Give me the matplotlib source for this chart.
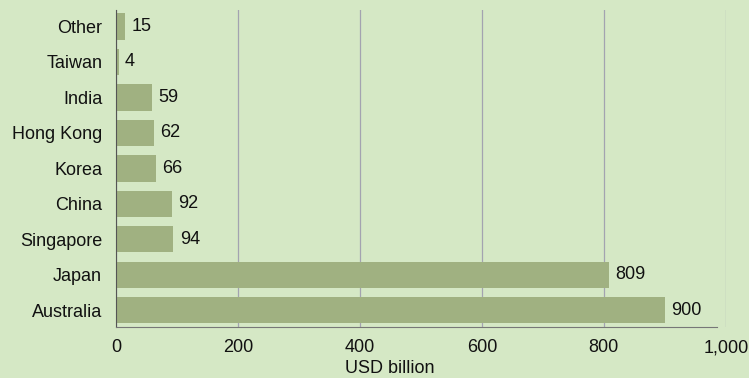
import matplotlib.pyplot as plt
import numpy as np

plt.rcParams["font.family"] = ["Liberation Sans", "DejaVu Sans"]

countries = ["Australia", "Japan", "Singapore", "China", "Korea",
             "Hong Kong", "India", "Taiwan", "Other"]
values = [900, 809, 94, 92, 66, 62, 59, 4, 15]
xticks = [0, 200, 400, 600, 800, 1000]
xticklabels = ["0", "200", "400", "600", "800", "1,000"]

BG = "#d5e8c5"
BAR = "#a0b181"
TXT = "#111111"

fig = plt.figure(figsize=(7.49, 3.78), dpi=100, facecolor=BG)
ax = fig.add_axes([0.155, 0.135, 0.814, 0.839], facecolor=BG)

y = np.arange(len(countries))
ax.barh(y, values, height=0.74, color=BAR, zorder=2)
for yi, v in zip(y, values):
    ax.annotate(str(v), (v, yi), xytext=(4.5, 0), textcoords="offset points",
                va="center", ha="left", fontsize=13, color=TXT)

ax.set_yticks(y)
ax.set_yticklabels(countries, fontsize=13, color=TXT)
ax.set_xticks(xticks)
ax.set_xticklabels(xticklabels, fontsize=13, color=TXT)
ax.set_xlim(0, 1000)
ax.set_ylim(-0.47, 8.47)
ax.tick_params(axis="y", length=0, pad=10)
ax.tick_params(axis="x", length=0, pad=9)
ax.set_xlabel("USD billion", fontsize=13, color=TXT, labelpad=2)
ax.xaxis.set_label_coords(0.449, -0.105)
ax.xaxis.label.set_va("top")

ax.grid(axis="x", color="#a3a3b0", lw=0.9, zorder=1)
for s in ["top", "right"]:
    ax.spines[s].set_visible(False)
ax.spines["left"].set_color("#555555")
ax.spines["bottom"].set_color("#777777")
ax.spines["bottom"].set_bounds(0, 985)

fig.savefig("out.png", dpi=100, facecolor=BG)
